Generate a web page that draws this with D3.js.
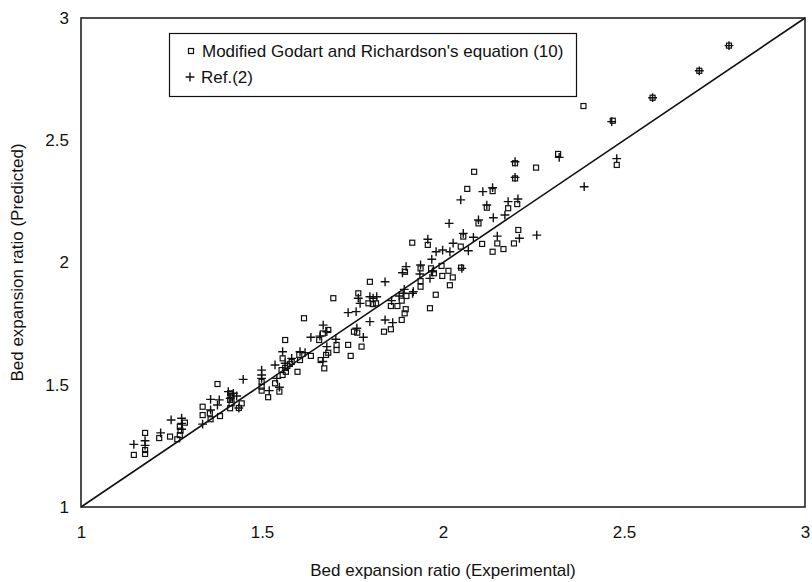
<!DOCTYPE html>
<html>
<head>
<meta charset="utf-8">
<script src="https://cdn.jsdelivr.net/npm/d3@7/dist/d3.min.js"></script>
<style>
  html, body { margin: 0; padding: 0; background: #fff; }
  svg { display: block; font-family: "Liberation Sans", Arial, sans-serif; }
</style>
</head>
<body>
<svg id="chart" width="812" height="582"></svg>
<script>
// Bed expansion ratio: experimental (x) vs predicted (y)
const modifiedGR = [
  [1.146,1.213],[1.177,1.303],[1.177,1.233],[1.177,1.217],[1.216,1.282],[1.246,1.288],[1.266,1.277],[1.287,1.345],[1.273,1.328],[1.275,1.312],[1.273,1.294],
  [1.377,1.503],[1.336,1.410],[1.336,1.376],[1.356,1.383],[1.358,1.359],[1.384,1.372],
  [1.412,1.465],[1.416,1.451],[1.412,1.438],[1.416,1.424],[1.412,1.404],[1.444,1.424],[1.436,1.405],
  [1.499,1.512],[1.499,1.492],[1.499,1.476],[1.517,1.449],[1.536,1.506],[1.548,1.472],[1.557,1.540],[1.566,1.553],
  [1.554,1.560],[1.557,1.608],[1.570,1.577],[1.582,1.593],[1.598,1.553],[1.603,1.622],[1.605,1.601],[1.635,1.618],
  [1.564,1.569],[1.577,1.585],
  [1.564,1.683],[1.616,1.772],[1.658,1.683],[1.668,1.710],[1.683,1.724],[1.662,1.601],[1.672,1.567],[1.677,1.622],[1.683,1.631],
  [1.706,1.663],[1.706,1.642],[1.697,1.854],[1.738,1.663],[1.745,1.618],[1.775,1.656],[1.766,1.874],[1.754,1.717],[1.763,1.713],
  [1.794,1.833],[1.815,1.833],[1.798,1.921],[1.837,1.717],[1.856,1.727],[1.886,1.765],[1.894,1.792],[1.856,1.822],[1.874,1.822],
  [1.886,1.844],[1.899,1.863],[1.897,1.809],[1.806,1.830],[1.938,1.901],[1.938,1.924],[2.019,1.907],[1.980,1.868],[1.964,1.813],
  [1.915,2.081],[1.958,2.072],[2.049,2.065],[1.938,1.976],[1.895,1.962],[1.967,1.976],[1.975,1.956],[1.996,1.986],[1.998,1.945],
  [2.015,1.966],[2.027,1.939],[2.050,1.979],
  [2.318,2.444],[2.257,2.388],[2.086,2.371],[2.199,2.406],[2.199,2.344],[2.067,2.301],[2.137,2.292],[2.205,2.239],[2.180,2.222],
  [2.121,2.224],[2.098,2.160],[2.056,2.106],[2.208,2.133],[2.108,2.076],[2.150,2.078],[2.167,2.055],[2.137,2.044],[2.196,2.078],
  [2.388,2.640],[2.469,2.580],[2.579,2.674],[2.708,2.784],[2.790,2.887],[2.480,2.399]
];

const ref2 = [
  [1.146,1.256],[1.177,1.271],[1.177,1.252],[1.220,1.303],[1.249,1.356],[1.278,1.363],[1.278,1.342],[1.278,1.318],[1.336,1.339],
  [1.358,1.440],[1.382,1.438],[1.377,1.417],[1.358,1.397],[1.407,1.472],[1.421,1.465],[1.430,1.454],[1.412,1.445],[1.436,1.405],[1.448,1.522],
  [1.499,1.560],[1.499,1.540],[1.499,1.526],[1.520,1.476],[1.548,1.490],[1.541,1.526],[1.536,1.581],[1.564,1.588],[1.557,1.635],
  [1.582,1.608],[1.605,1.635],[1.619,1.631],
  [1.635,1.694],[1.660,1.699],[1.669,1.744],[1.679,1.717],[1.668,1.595],[1.679,1.656],[1.704,1.686],[1.780,1.694],[1.738,1.795],
  [1.760,1.799],[1.762,1.731],
  [1.766,1.854],[1.771,1.833],[1.798,1.860],[1.817,1.860],[1.807,1.854],[1.840,1.921],[1.798,1.758],[1.840,1.765],[1.861,1.754],
  [1.858,1.844],[1.879,1.863],
  [1.916,1.874],[1.893,1.890],[1.890,1.874],[1.918,1.881],[1.888,1.958],[1.898,1.983],[1.938,1.990],[1.936,1.953],[1.964,1.935],
  [1.969,2.013],[1.971,1.962],
  [1.981,2.044],[1.999,2.051],[2.019,2.044],[2.028,2.079],[2.070,2.048],[2.052,1.976],[1.958,2.095],[2.017,2.160],[2.049,2.256],
  [2.056,2.119],[2.084,2.103],
  [2.098,2.174],[2.139,2.183],[2.171,2.194],[2.121,2.235],[2.180,2.249],[2.207,2.260],[2.110,2.290],[2.137,2.306],[2.199,2.412],
  [2.199,2.348],[2.150,2.108],[2.211,2.099],[2.259,2.112],
  [2.321,2.430],[2.390,2.310],[2.466,2.576],[2.579,2.674],[2.708,2.784],[2.790,2.887],[2.480,2.425]
];

const tickValues = [1, 1.5, 2, 2.5, 3];
const tickLabels = ["1", "1.5", "2", "2.5", "3"];
const seriesNames = ["Modified Godart and Richardson's equation (10)", "Ref.(2)"];
const axisTitles = { x: "Bed expansion ratio (Experimental)", y: "Bed expansion ratio (Predicted)" };

const W = 812, H = 582;
const margin = { top: 18, right: 7, bottom: 75, left: 81 };
const iw = W - margin.left - margin.right;
const ih = H - margin.top - margin.bottom;

const svg = d3.select("#chart");
const g = svg.append("g").attr("transform", `translate(${margin.left},${margin.top})`);

const x = d3.scaleLinear().domain([1, 3]).range([0, iw]);
const y = d3.scaleLinear().domain([1, 3]).range([ih, 0]);

const fmt = d => tickLabels[tickValues.indexOf(d)];

// Axes: labels only, the frame is drawn separately
const xAxis = g.append("g").attr("transform", `translate(0,${ih})`)
  .call(d3.axisBottom(x).tickValues(tickValues).tickFormat(fmt).tickSize(0).tickPadding(19));
const yAxis = g.append("g")
  .call(d3.axisLeft(y).tickValues(tickValues).tickFormat(fmt).tickSize(0).tickPadding(12));
[xAxis, yAxis].forEach(a => {
  a.select(".domain").remove();
  a.selectAll("text").attr("font-size", 17).attr("fill", "#111")
    .attr("font-family", "'Liberation Sans', Arial, sans-serif");
});

// 1:1 reference line
g.append("line")
  .attr("x1", x(1)).attr("y1", y(1)).attr("x2", x(3)).attr("y2", y(3))
  .attr("stroke", "#111").attr("stroke-width", 1.6);

// Plot frame
g.append("rect").attr("x", 0).attr("y", 0).attr("width", iw).attr("height", ih)
  .attr("fill", "none").attr("stroke", "#222").attr("stroke-width", 1.6);

const sq = 5, pl = 4.4;

// Hollow squares: modified Godart and Richardson's equation
g.append("g").selectAll("rect").data(modifiedGR).join("rect")
  .attr("x", d => x(d[0]) - sq / 2).attr("y", d => y(d[1]) - sq / 2)
  .attr("width", sq).attr("height", sq)
  .attr("fill", "none").attr("stroke", "#111").attr("stroke-width", 1.2);

// Plus signs: Ref.(2)
const plusPath = (cx, cy) => `M${cx - pl},${cy}H${cx + pl}M${cx},${cy - pl}V${cy + pl}`;
g.append("g").selectAll("path").data(ref2).join("path")
  .attr("d", d => plusPath(x(d[0]), y(d[1])))
  .attr("fill", "none").attr("stroke", "#111").attr("stroke-width", 1.4);

// Legend
const lg = svg.append("g");
lg.append("rect").attr("x", 169.5).attr("y", 33.5).attr("width", 407).attr("height", 63)
  .attr("fill", "#fff").attr("stroke", "#111").attr("stroke-width", 1.2);
lg.append("rect").attr("x", 191 - sq / 2).attr("y", 51 - sq / 2).attr("width", sq).attr("height", sq)
  .attr("fill", "none").attr("stroke", "#111").attr("stroke-width", 1.2);
lg.append("text").attr("x", 202).attr("y", 57).attr("font-size", 17).attr("fill", "#111")
  .text(seriesNames[0]);
lg.append("path").attr("d", plusPath(190, 77))
  .attr("fill", "none").attr("stroke", "#111").attr("stroke-width", 1.4);
lg.append("text").attr("x", 201).attr("y", 83).attr("font-size", 17).attr("fill", "#111")
  .text(seriesNames[1]);

// Axis titles
svg.append("text").attr("x", margin.left + iw / 2).attr("y", 576)
  .attr("text-anchor", "middle").attr("font-size", 17).attr("fill", "#111")
  .text(axisTitles.x);
svg.append("text")
  .attr("transform", `translate(23,${margin.top + ih / 2}) rotate(-90)`)
  .attr("text-anchor", "middle").attr("font-size", 17).attr("fill", "#111")
  .text(axisTitles.y);
</script>
</body>
</html>
